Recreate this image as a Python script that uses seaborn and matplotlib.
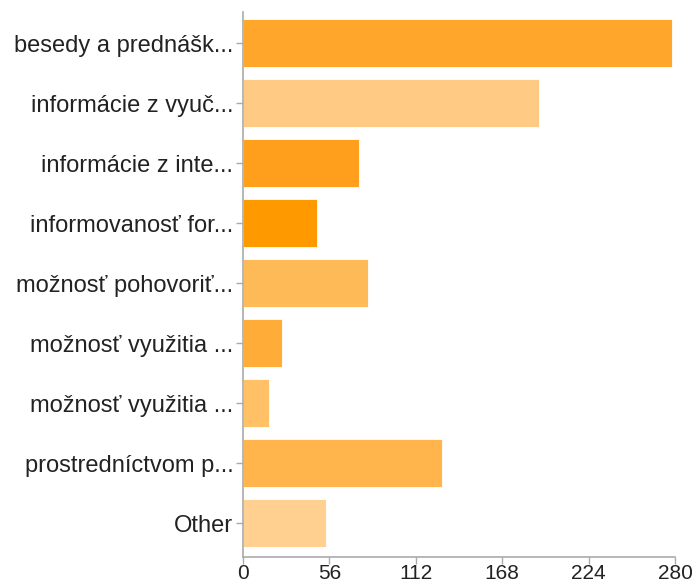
import pandas as pd
import matplotlib
matplotlib.use("Agg")
import matplotlib.pyplot as plt
import seaborn as sns

# answers (labels are cut off like in the source chart)
labels = [
    "besedy a prednášk...",
    "informácie z vyuč...",
    "informácie z inte...",
    "informovanosť for...",
    "možnosť pohovoriť...",
    "možnosť využitia ...",
    "možnosť využitia ...",
    "prostredníctvom p...",
    "Other",
]
counts = [278, 192, 75, 48, 81, 25, 17, 129, 54]
colors = ["#FFA62B", "#FFCB84", "#FF9F1C", "#FF9900", "#FFBA58",
          "#FFAD38", "#FFC066", "#FFB54B", "#FFD08F"]

df = pd.DataFrame({"answer": range(len(labels)), "count": counts})

sns.set_style("white")
plt.rcParams["font.family"] = ["Liberation Sans", "DejaVu Sans"]

fig = plt.figure(figsize=(6.97, 5.87), dpi=100)
ax = fig.add_axes([0.3486, 0.0511, 0.6198, 0.9285])

sns.barplot(data=df, x="count", y="answer", hue="answer", palette=colors,
            orient="h", width=0.8, saturation=1, legend=False, ax=ax)
for p in ax.patches:
    p.set_edgecolor("white")
    p.set_linewidth(0.6)

ax.set_xlim(0, 280)
ax.set_ylim(8.56, -0.52)
ax.set_xticks([0, 56, 112, 168, 224, 280])
ax.set_yticks(range(len(labels)))
ax.set_yticklabels(labels)
ax.set_xlabel("")
ax.set_ylabel("")

for s in ["top", "right"]:
    ax.spines[s].set_visible(False)
for s in ["left", "bottom"]:
    ax.spines[s].set_color("#aaaaaa")
    ax.spines[s].set_linewidth(1.2)
ax.tick_params(axis="both", length=5, width=1, color="#aaaaaa",
               labelcolor="#222222", direction="out")
ax.tick_params(axis="y", left=True, labelsize=17, pad=2)
ax.tick_params(axis="x", bottom=True, labelsize=15, pad=0)

fig.savefig("out.png", dpi=100)
